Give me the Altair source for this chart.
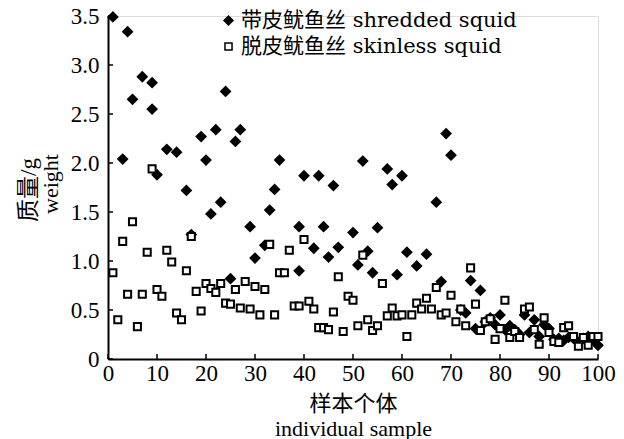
import altair as alt
import pandas as pd

series = ["带皮鱿鱼丝 shredded squid", "脱皮鱿鱼丝 skinless squid"]

skin_x = [1, 3, 4, 5, 7, 9, 9, 10, 12, 14, 16, 17, 19, 20, 21, 22, 23, 24, 25, 26,
          27, 29, 30, 32, 33, 34, 35, 39, 39, 40, 42, 43, 44, 45, 46, 47, 50, 51, 52, 53,
          54, 55, 57, 58, 59, 60, 61, 63, 65, 67, 68, 69, 70, 72, 73, 74, 75, 76, 77, 78,
          79, 80, 81, 82, 83, 84, 85, 86, 87, 88, 89, 90, 91, 92, 93, 94, 95, 96, 97, 98,
          99, 100]
skin_y = [3.49, 2.04, 3.34, 2.65, 2.88, 2.82, 2.55, 1.88, 2.14, 2.11, 1.72, 1.27, 2.27, 2.03, 1.48, 2.34, 1.60, 2.73, 0.82, 2.22,
          2.34, 1.35, 1.03, 1.16, 1.52, 1.73, 2.03, 0.90, 1.35, 1.87, 1.13, 1.87, 1.35, 1.04, 1.77, 1.14, 1.29, 0.96, 2.02, 1.10,
          0.88, 1.34, 1.94, 1.78, 0.86, 1.87, 1.09, 0.95, 1.07, 1.60, 0.79, 2.30, 2.08, 0.50, 0.47, 0.80, 0.31, 0.70, 0.38, 0.42,
          0.35, 0.45, 0.30, 0.34, 0.30, 0.25, 0.45, 0.27, 0.40, 0.23, 0.35, 0.31, 0.20, 0.21, 0.19, 0.22, 0.21, 0.17, 0.21, 0.23,
          0.20, 0.14]

peel_x = list(range(1, 101))
peel_y = [0.88, 0.40, 1.20, 0.66, 1.40, 0.33, 0.66, 1.09, 1.94, 0.71,
          0.64, 1.11, 0.99, 0.47, 0.40, 0.90, 1.25, 0.69, 0.49, 0.77,
          0.72, 0.68, 0.77, 0.57, 0.56, 0.71, 0.52, 0.79, 0.51, 0.74,
          0.45, 0.71, 1.17, 0.45, 0.88, 0.88, 1.11, 0.54, 0.54, 1.22,
          0.59, 0.51, 0.32, 0.32, 0.30, 0.48, 0.84, 0.28, 0.64, 0.60,
          0.34, 1.06, 0.40, 0.29, 0.34, 0.77, 0.44, 0.52, 0.44, 0.45,
          0.23, 0.45, 0.57, 0.51, 0.62, 0.51, 0.73, 0.45, 0.47, 0.65,
          0.38, 0.51, 0.34, 0.93, 0.56, 0.29, 0.38, 0.41, 0.20, 0.31,
          0.60, 0.22, 0.28, 0.22, 0.51, 0.53, 0.30, 0.15, 0.42, 0.27,
          0.18, 0.17, 0.32, 0.34, 0.23, 0.13, 0.22, 0.14, 0.23, 0.23]

x_ticks = list(range(0, 101, 10))
y_ticks = [0, 0.5, 1.0, 1.5, 2.0, 2.5, 3.0, 3.5]
y_title_lines = ["质量/g", "weight"]

df = pd.DataFrame({
    "x": skin_x + peel_x,
    "y": skin_y + peel_y,
    "s": [series[0]] * len(skin_x) + [series[1]] * len(peel_x),
})
df["o"] = range(len(df))

W, H = 490, 343
FONT = "Liberation Serif, Noto Sans CJK SC"
LEGFONT = "DejaVu Serif, Noto Sans CJK SC"

xscale = alt.Scale(domain=[0, 100], nice=False, zero=False)
yscale = alt.Scale(domain=[0, 3.5], nice=False)

xaxis = alt.Axis(
    values=x_ticks, ticks=False, grid=False, domainColor="black", domainWidth=2,
    labelFont=FONT, labelFontSize=23, labelColor="black", labelPadding=3,
    title=["样本个体", "individual sample"], titleFont=FONT, titleFontSize=22,
    titleFontWeight="normal", titleColor="black", titlePadding=8, titleLineHeight=25,
    labelFlush=False)
yaxis = alt.Axis(
    values=y_ticks, ticks=False, grid=False, domainColor="black", domainWidth=2,
    labelFont=FONT, labelFontSize=23, labelColor="black", labelPadding=9,
    labelExpr="datum.value == 0 ? '0' : format(datum.value, '.1f')",
    title=None)

points = alt.Chart(df).mark_point(filled=True, opacity=1, strokeWidth=2).encode(
    x=alt.X("x:Q", scale=xscale, axis=xaxis),
    y=alt.Y("y:Q", scale=yscale, axis=yaxis),
    shape=alt.Shape("s:N", scale=alt.Scale(domain=series, range=["diamond", "square"]),
                    legend=alt.Legend(title=None, orient="none", legendX=110, legendY=-6,
                                      labelFont=LEGFONT, labelFontSize=21, labelColor="black",
                                      labelOffset=2, rowPadding=4, padding=0, labelLimit=0,
                                      symbolStrokeWidth=1.5)),
    fill=alt.Fill("s:N", scale=alt.Scale(domain=series, range=["black", "white"])),
    size=alt.Size("s:N", scale=alt.Scale(domain=series, range=[80, 50])),
    stroke=alt.value("black"),
    order=alt.Order("o:Q"),
)

xt = alt.Chart(pd.DataFrame({"t": x_ticks})).mark_rule(color="black", strokeWidth=1.5).encode(
    x=alt.X("t:Q", scale=xscale, axis=xaxis),
    y=alt.value(H), y2=alt.value(H - 5),
)
yt = alt.Chart(pd.DataFrame({"t": y_ticks})).mark_rule(color="black", strokeWidth=1.5).encode(
    y=alt.Y("t:Q", scale=yscale, axis=yaxis),
    x=alt.value(0), x2=alt.value(5),
)

ytitle1 = alt.Chart(pd.DataFrame({"t": [y_title_lines[0]]})).mark_text(
    font=FONT, fontSize=23, color="black", angle=270, align="center", baseline="middle"
).encode(text="t:N", x=alt.value(-79), y=alt.value(174))
ytitle2 = alt.Chart(pd.DataFrame({"t": [y_title_lines[1]]})).mark_text(
    font=FONT, fontSize=22, color="black", angle=270, align="center", baseline="middle"
).encode(text="t:N", x=alt.value(-57), y=alt.value(168))

chart = alt.layer(xt, yt, points, ytitle1, ytitle2).properties(
    width=W, height=H,
    autosize=alt.AutoSizeParams(type="none"),
    padding={"left": 108, "top": 16, "right": 26, "bottom": 80},
).configure_view(strokeWidth=0).configure(background="white")

chart.save("out.html", embed_options={"renderer": "svg", "actions": False})
